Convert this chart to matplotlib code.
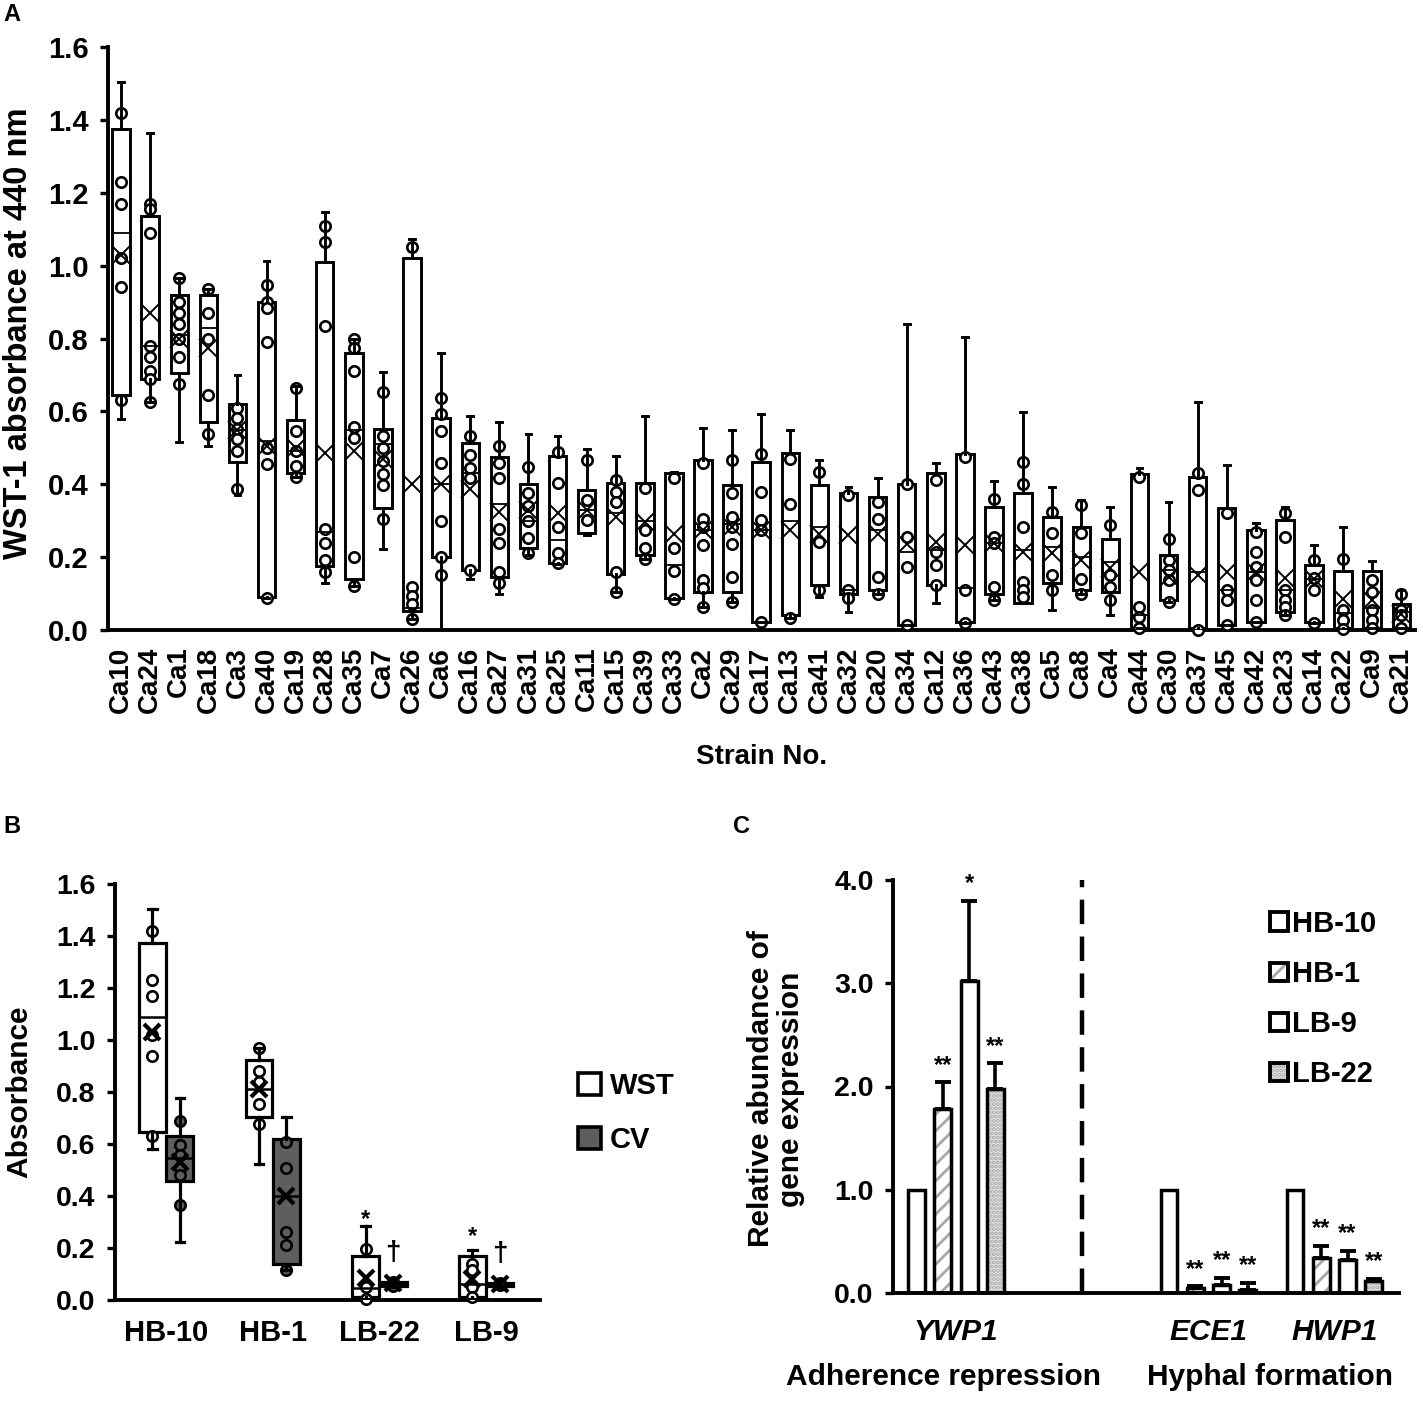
import numpy as np
import matplotlib
matplotlib.use('Agg')
import matplotlib.pyplot as plt
from matplotlib.ticker import FormatStrFormatter
from matplotlib.patches import Patch
from matplotlib.legend_handler import HandlerTuple

plt.rcParams['font.family'] = ['Liberation Sans', 'DejaVu Sans']
plt.rcParams['font.weight'] = 'bold'
plt.rcParams['hatch.color'] = '#a8a8a8'
plt.rcParams['hatch.linewidth'] = 2.0

W, H = 1423, 1402

# ---------------- panel A : WST-1 absorbance per strain ----------------
strains = ['Ca10', 'Ca24', 'Ca1', 'Ca18', 'Ca3', 'Ca40', 'Ca19', 'Ca28', 'Ca35', 'Ca7',
           'Ca26', 'Ca6', 'Ca16', 'Ca27', 'Ca31', 'Ca25', 'Ca11', 'Ca15', 'Ca39', 'Ca33',
           'Ca2', 'Ca29', 'Ca17', 'Ca13', 'Ca41', 'Ca32', 'Ca20', 'Ca34', 'Ca12', 'Ca36',
           'Ca43', 'Ca38', 'Ca5', 'Ca8', 'Ca4', 'Ca44', 'Ca30', 'Ca37', 'Ca45', 'Ca42',
           'Ca23', 'Ca14', 'Ca22', 'Ca9', 'Ca21']
a_whislo = [0.58, 0.625, 0.515, 0.505, 0.37, 0.088, 0.42, 0.13, 0.12, 0.222,
            0.031, 0.0, 0.139, 0.098, 0.205, 0.18, 0.262, 0.105, 0.196, 0.086,
            0.064, 0.078, 0.023, 0.032, 0.09, 0.05, 0.10, 0.013, 0.073, 0.02,
            0.082, 0.073, 0.055, 0.10, 0.041, 0.005, 0.077, 0.0, 0.014, 0.023,
            0.041, 0.018, 0.003, 0.005, 0.005]
a_q1 = [0.645, 0.69, 0.705, 0.57, 0.46, 0.09, 0.43, 0.176, 0.14, 0.336,
        0.052, 0.20, 0.165, 0.145, 0.225, 0.183, 0.265, 0.155, 0.205, 0.088,
        0.105, 0.105, 0.023, 0.041, 0.124, 0.10, 0.11, 0.013, 0.124, 0.023,
        0.10, 0.073, 0.128, 0.11, 0.105, 0.005, 0.082, 0.005, 0.014, 0.023,
        0.05, 0.023, 0.005, 0.005, 0.005]
a_med = [1.09, 0.78, 0.81, 0.83, 0.55, 0.52, 0.49, 0.27, 0.55, 0.51,
         0.06, 0.40, 0.43, 0.346, 0.30, 0.247, 0.33, 0.32, 0.30, 0.178,
         0.274, 0.29, 0.274, 0.30, 0.283, 0.11, 0.274, 0.214, 0.22, 0.114,
         0.238, 0.22, 0.228, 0.20, 0.187, 0.04, 0.165, 0.16, 0.11, 0.16,
         0.11, 0.14, 0.046, 0.06, 0.05]
a_q3 = [1.375, 1.135, 0.92, 0.92, 0.62, 0.90, 0.575, 1.01, 0.76, 0.551,
        1.022, 0.583, 0.513, 0.475, 0.40, 0.477, 0.384, 0.404, 0.404, 0.43,
        0.466, 0.398, 0.46, 0.485, 0.398, 0.377, 0.364, 0.40, 0.43, 0.483,
        0.338, 0.375, 0.311, 0.284, 0.249, 0.428, 0.206, 0.419, 0.334, 0.274,
        0.302, 0.178, 0.163, 0.163, 0.071]
a_whishi = [1.505, 1.365, 0.965, 0.935, 0.70, 1.012, 0.67, 1.146, 0.80, 0.707,
            1.074, 0.761, 0.588, 0.570, 0.538, 0.533, 0.496, 0.477, 0.587, 0.434,
            0.555, 0.55, 0.592, 0.548, 0.466, 0.393, 0.416, 0.84, 0.457, 0.805,
            0.41, 0.597, 0.393, 0.358, 0.338, 0.444, 0.352, 0.627, 0.453, 0.293,
            0.338, 0.233, 0.284, 0.19, 0.11]
a_mean = [1.03, 0.87, 0.80, 0.775, 0.55, 0.505, 0.50, 0.485, 0.49, 0.47,
          0.40, 0.40, 0.387, 0.325, 0.33, 0.32, 0.33, 0.31, 0.297, 0.264,
          0.274, 0.283, 0.274, 0.274, 0.264, 0.26, 0.264, 0.237, 0.242, 0.233,
          0.238, 0.215, 0.21, 0.192, 0.169, 0.16, 0.146, 0.151, 0.16, 0.16,
          0.142, 0.139, 0.084, 0.081, 0.045]
a_points = [
    [1.42, 1.23, 1.17, 1.02, 0.94, 0.63],
    [1.17, 1.155, 1.09, 0.78, 0.75, 0.71, 0.69, 0.625],
    [0.965, 0.90, 0.87, 0.84, 0.80, 0.75, 0.675],
    [0.935, 0.87, 0.80, 0.645, 0.537],
    [0.61, 0.583, 0.553, 0.523, 0.49, 0.387],
    [0.947, 0.90, 0.883, 0.79, 0.50, 0.455, 0.088],
    [0.663, 0.546, 0.49, 0.45, 0.42],
    [1.11, 1.066, 0.835, 0.276, 0.239, 0.193, 0.16],
    [0.80, 0.775, 0.712, 0.557, 0.527, 0.20, 0.121],
    [0.653, 0.532, 0.50, 0.465, 0.428, 0.397, 0.305],
    [1.051, 0.119, 0.093, 0.072, 0.031],
    [0.638, 0.594, 0.546, 0.458, 0.30, 0.20, 0.15],
    [0.532, 0.48, 0.444, 0.418, 0.165],
    [0.506, 0.458, 0.418, 0.276, 0.239, 0.16, 0.129],
    [0.446, 0.376, 0.34, 0.30, 0.253, 0.212],
    [0.489, 0.403, 0.283, 0.21, 0.183],
    [0.467, 0.357, 0.302],
    [0.412, 0.38, 0.35, 0.16, 0.105],
    [0.39, 0.274, 0.224, 0.196],
    [0.416, 0.224, 0.163, 0.086],
    [0.457, 0.306, 0.283, 0.233, 0.138, 0.114, 0.064],
    [0.466, 0.375, 0.31, 0.283, 0.237, 0.146, 0.078],
    [0.483, 0.38, 0.302, 0.274, 0.023],
    [0.47, 0.346, 0.032],
    [0.434, 0.242, 0.11],
    [0.37, 0.11, 0.087],
    [0.35, 0.306, 0.146, 0.10],
    [0.40, 0.256, 0.173, 0.013],
    [0.412, 0.214, 0.178, 0.124],
    [0.475, 0.11, 0.02],
    [0.36, 0.256, 0.238, 0.119, 0.082],
    [0.462, 0.40, 0.284, 0.133, 0.11, 0.091],
    [0.325, 0.265, 0.151, 0.11],
    [0.343, 0.265, 0.139, 0.10],
    [0.288, 0.151, 0.119, 0.082],
    [0.421, 0.064, 0.037, 0.005],
    [0.249, 0.192, 0.165, 0.137, 0.077],
    [0.43, 0.384, 0.0],
    [0.32, 0.11, 0.082, 0.014],
    [0.27, 0.215, 0.174, 0.137, 0.082, 0.023],
    [0.32, 0.256, 0.11, 0.082, 0.064, 0.041],
    [0.192, 0.142, 0.11, 0.018],
    [0.195, 0.055, 0.027, 0.003],
    [0.137, 0.105, 0.055, 0.027, 0.005],
    [0.10, 0.055, 0.041, 0.005],
]

# ---------------- panel B : WST vs CV for four strains ----------------
b_groups = ['HB-10', 'HB-1', 'LB-22', 'LB-9']
wst_whislo = [0.58, 0.523, 0.003, 0.005]
wst_q1 = [0.645, 0.704, 0.01, 0.01]
wst_med = [1.09, 0.81, 0.046, 0.06]
wst_q3 = [1.375, 0.923, 0.17, 0.17]
wst_whishi = [1.505, 0.968, 0.284, 0.193]
wst_mean = [1.03, 0.811, 0.084, 0.081]
wst_points = [[1.42, 1.23, 1.17, 1.02, 0.94, 0.63],
              [0.968, 0.88, 0.837, 0.752, 0.677],
              [0.195, 0.05, 0.003],
              [0.138, 0.117, 0.05, 0.01]]
cv_whislo = [0.224, 0.117, 0.05, 0.05]
cv_q1 = [0.459, 0.138, 0.052, 0.052]
cv_med = [0.545, 0.40, 0.06, 0.058]
cv_q3 = [0.63, 0.62, 0.068, 0.066]
cv_whishi = [0.777, 0.704, 0.075, 0.072]
cv_mean = [0.53, 0.40, 0.064, 0.06]
cv_points = [[0.687, 0.595, 0.559, 0.509, 0.48, 0.366],
             [0.609, 0.509, 0.26, 0.21, 0.117],
             [0.07, 0.06, 0.055],
             [0.065, 0.058]]
wst_marks = ['', '', '*', '*']
wst_mark_y = [0, 0, 0.31, 0.245]
cv_marks = ['', '', '\u2020', '\u2020']
cv_mark_y = [0, 0, 0.18, 0.178]

# ---------------- panel C : relative gene expression ----------------
genes = ['YWP1', 'ECE1', 'HWP1']
c_strains = ['HB-10', 'HB-1', 'LB-9', 'LB-22']
c_means = {'HB-10': [1.0, 1.0, 1.0],
           'HB-1': [1.78, 0.05, 0.34],
           'LB-9': [3.02, 0.08, 0.32],
           'LB-22': [1.98, 0.03, 0.12]}
c_err = {'HB-10': [0.0, 0.0, 0.0],
         'HB-1': [0.26, 0.02, 0.12],
         'LB-9': [0.78, 0.07, 0.09],
         'LB-22': [0.25, 0.07, 0.02]}
c_stars = {'HB-10': ['', '', ''],
           'HB-1': ['**', '**', '**'],
           'LB-9': ['*', '**', '**'],
           'LB-22': ['**', '**', '**']}
func_groups = ['Adherence repression', 'Hyphal formation']


def make_stats(lo, a, m, b, hi, mu):
    return [dict(whislo=lo[i], q1=a[i], med=m[i], q3=b[i], whishi=hi[i],
                 mean=mu[i], fliers=[]) for i in range(len(lo))]


def draw_boxes(ax, stats, pos, pts, width, face, lw, ms, xs, xw, capw, mlw):
    ax.bxp(stats, positions=pos, widths=width, patch_artist=True,
           showmeans=True, showfliers=False, capwidths=capw,
           boxprops=dict(facecolor=face, edgecolor='black', linewidth=lw),
           whiskerprops=dict(color='black', linewidth=lw, zorder=4),
           capprops=dict(color='black', linewidth=lw, zorder=4),
           medianprops=dict(color='black', linewidth=mlw, zorder=4),
           meanprops=dict(marker='x', markeredgecolor='black', markersize=xs,
                          markeredgewidth=xw, zorder=5),
           zorder=2)
    for p, vals in zip(pos, pts):
        ax.plot([p] * len(vals), vals, 'o', mfc=face, mec='black', ms=ms,
                mew=1.9, zorder=3, clip_on=False)


def style_axis(ax, lw):
    for s in ['top', 'right']:
        ax.spines[s].set_visible(False)
    for s in ['left', 'bottom']:
        ax.spines[s].set_linewidth(lw)
    ax.tick_params(axis='x', length=0)


fig = plt.figure(figsize=(W / 100, H / 100), dpi=100)

# ---- A
axA = fig.add_axes([108 / W, 1 - 630 / H, (1415 - 108) / W, (630 - 47) / H])
xA = np.arange(len(strains))
draw_boxes(axA, make_stats(a_whislo, a_q1, a_med, a_q3, a_whishi, a_mean),
           xA, a_points, 0.6, 'white', 2.1, 7.5, 13, 1.4, 0.2, 1.3)
axA.set_xlim(-0.45, 44.47)
axA.set_ylim(0, 1.6)
axA.set_yticks(np.arange(0, 1.61, 0.2))
axA.yaxis.set_major_formatter(FormatStrFormatter('%.1f'))
axA.set_xticks(xA)
axA.set_xticklabels(strains, rotation=90, fontsize=20)
style_axis(axA, 2.8)
axA.tick_params(axis='x', pad=12)
axA.tick_params(axis='y', direction='out', length=6, width=2.4, labelsize=21, pad=8)
fig.text(762 / W, 1 - 757 / H, 'Strain No.', ha='center', va='center', fontsize=20)
fig.text(19 / W, 1 - 333 / H, 'WST-1 absorbance at 440 nm', rotation=90,
         ha='center', va='center', fontsize=23.5)

# ---- B
axB = fig.add_axes([115 / W, 1 - 1300 / H, (540 - 115) / W, (1300 - 884) / H])
xB = np.arange(len(b_groups))
off = 0.129
draw_boxes(axB, make_stats(wst_whislo, wst_q1, wst_med, wst_q3, wst_whishi, wst_mean),
           xB - off, wst_points, 0.25, 'white', 2.3, 7.5, 12, 3, 0.08, 1.8)
draw_boxes(axB, make_stats(cv_whislo, cv_q1, cv_med, cv_q3, cv_whishi, cv_mean),
           xB + off, cv_points, 0.25, '#5e5e5e', 2.3, 7.5, 12, 3, 0.08, 1.8)
for i in range(len(b_groups)):
    if wst_marks[i]:
        axB.text(xB[i] - off, wst_mark_y[i], wst_marks[i], ha='center', va='center', fontsize=17)
    if cv_marks[i]:
        axB.text(xB[i] + off, cv_mark_y[i], cv_marks[i], ha='center', va='center',
                 fontsize=20)
axB.set_xlim(-0.478, 3.505)
axB.set_ylim(0, 1.6)
axB.set_yticks(np.arange(0, 1.61, 0.2))
axB.yaxis.set_major_formatter(FormatStrFormatter('%.1f'))
axB.set_xticks(xB)
axB.set_xticklabels(b_groups, fontsize=21)
style_axis(axB, 2.8)
axB.tick_params(axis='x', pad=14)
axB.tick_params(axis='y', direction='out', length=6, width=2.4, labelsize=20.5, pad=8)
fig.text(19 / W, 1 - 1092 / H, 'Absorbance', rotation=90, ha='center', va='center',
         fontsize=21.5)
hB = [Patch(facecolor='white', edgecolor='black', linewidth=2.6),
      Patch(facecolor='#5e5e5e', edgecolor='black', linewidth=2.6)]
fig.legend(hB, ['WST', 'CV'], loc='upper left', bbox_to_anchor=(578 / W, 1 - 1072 / H),
           frameon=False, fontsize=21, borderpad=0, borderaxespad=0,
           handlelength=0.8, handleheight=0.8, handletextpad=0.3, labelspacing=0.9)

# ---- C
axC = fig.add_axes([893 / W, 1 - 1293 / H, (1399 - 893) / W, (1293 - 880) / H])
centers = np.array([2.35, 11.77, 16.47])
offsets = np.array([-1.5, -0.5, 0.5, 1.5]) * 0.98
bw = 0.63
fills = {'HB-10': dict(color='white'),
         'HB-1': dict(color='white', hatch='//'),
         'LB-9': dict(color='white'),
         'LB-22': dict(color='#e4e4e4', hatch='....')}
legend_handles = []
for k, name in enumerate(c_strains):
    xs = centers + offsets[k]
    vals = np.array(c_means[name])
    errs = np.array(c_err[name])
    fb = axC.bar(xs, vals, bw, linewidth=0, zorder=2, **fills[name])
    axC.bar(xs, vals, bw, fill=False, edgecolor='black', linewidth=2.5, zorder=3)
    if errs.max() > 0:
        axC.errorbar(xs, vals, yerr=[np.zeros_like(errs), errs], fmt='none',
                     ecolor='black', elinewidth=2.6, capsize=6, capthick=2.8, zorder=4)
    for x, v, e, s in zip(xs, vals, errs, c_stars[name]):
        if s:
            axC.text(x, v + e + 0.05, s, ha='center', va='bottom', fontsize=17)
    legend_handles.append((fb.patches[0],
                           Patch(fill=False, edgecolor='black', linewidth=2.8)))
axC.vlines(7.04, 0, 4.0, colors='black', linewidth=3.2, linestyles=(0, (5.5, 2.8)), zorder=1)
axC.set_xlim(0, 18.88)
axC.set_ylim(0, 4.0)
axC.set_yticks(np.arange(0, 4.01, 1.0))
axC.yaxis.set_major_formatter(FormatStrFormatter('%.1f'))
axC.set_xticks(centers)
axC.set_xticklabels(genes, fontsize=21.5, fontstyle='italic')
style_axis(axC, 2.8)
axC.tick_params(axis='x', pad=18)
axC.tick_params(axis='y', direction='out', length=6, width=2.4, labelsize=20.5, pad=8)
fig.text(944 / W, 1 - 1377 / H, func_groups[0], ha='center', va='center', fontsize=21.5)
fig.text(1270 / W, 1 - 1377 / H, func_groups[1], ha='center', va='center', fontsize=21.5)
fig.text(776 / W, 1 - 1089 / H, 'Relative abundance of\ngene expression', rotation=90,
         ha='center', va='center', fontsize=21.5, linespacing=1.05)
fig.legend(legend_handles, c_strains, loc='upper left',
           bbox_to_anchor=(1270 / W, 1 - 910 / H), frameon=False, fontsize=21,
           borderpad=0, borderaxespad=0, handlelength=0.6, handleheight=0.6,
           handletextpad=0.15, labelspacing=0.76,
           handler_map={tuple: HandlerTuple(ndivide=1)})

# panel letters
fig.text(3 / W, 1 - 3 / H, 'A', ha='left', va='top', fontsize=17)
fig.text(3 / W, 1 - 815 / H, 'B', ha='left', va='top', fontsize=17)
fig.text(733 / W, 1 - 815 / H, 'C', ha='left', va='top', fontsize=17)

fig.savefig('out.png', dpi=100)
